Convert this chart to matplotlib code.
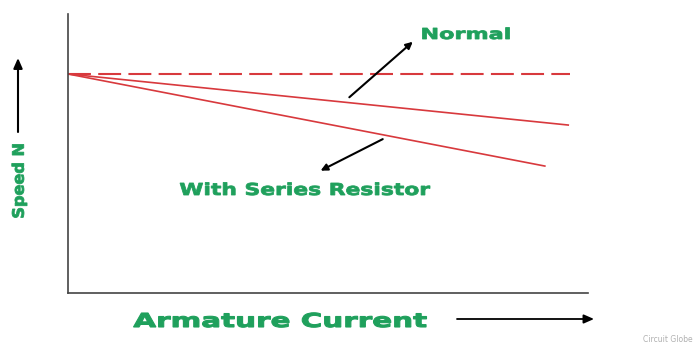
import matplotlib.pyplot as plt
from matplotlib.textpath import TextPath
from matplotlib.font_manager import FontProperties
from matplotlib.patches import PathPatch, FancyArrowPatch
from matplotlib.transforms import Affine2D

# speed vs armature current, values in percent of axis range
current = [0, 96.5]
speed_noload = [78.5, 78.5]
current_normal = [0, 96.2]
speed_normal = [78.5, 60.2]
current_series = [0, 91.7]
speed_series = [78.5, 45.5]

green = '#1fa05c'
red = '#d8393d'
W, H = 695, 347

fig = plt.figure(figsize=(W / 100, H / 100), dpi=100)
ax = fig.add_axes([68/W, 54/H, 520/W, 279/H])
ax.set_xlim(0, 100)
ax.set_ylim(0, 100)

ax.plot(current, speed_noload, color=red, lw=1.5, ls=(0, (11, 3.5)))
ax.plot(current_normal, speed_normal, color=red, lw=1.2)
ax.plot(current_series, speed_series, color=red, lw=1.2)

arrow = dict(arrowstyle='-|>,head_length=0.4,head_width=0.2', color='black', lw=1.5)
ax.annotate('', xy=(66.7, 90.7), xytext=(53.7, 69.5), arrowprops=arrow)
ax.annotate('', xy=(48.1, 43.4), xytext=(61, 55.6), arrowprops=arrow)

for side in ['top', 'right']:
    ax.spines[side].set_visible(False)
for side in ['left', 'bottom']:
    ax.spines[side].set_color('#444444')
    ax.spines[side].set_linewidth(1.2)
ax.set_xticks([])
ax.set_yticks([])

bold = FontProperties(family='DejaVu Sans', weight='bold')


def wide_text(s, cx, cy, cap, width, rotation=0, stroke=0.6):
    # bold label drawn as a path so it can be stretched sideways
    size = cap / 0.729
    tp = TextPath((0, 0), s, size=size, prop=bold)
    bb = tp.get_extents()
    tr = (Affine2D().translate(-(bb.x0 + bb.x1) / 2, -cap / 2)
          .scale(width / bb.width, 1).rotate_deg(rotation)
          .translate(cx, H - cy).scale(1 / W, 1 / H))
    fig.add_artist(PathPatch(tr.transform_path(tp), transform=fig.transFigure,
                             facecolor=green, edgecolor=green, lw=stroke))


wide_text('Normal', 466, 33.5, 11, 87)
wide_text('With Series Resistor', 305, 189, 12, 250)
wide_text('Armature Current', 280, 320, 14, 293, stroke=0.8)
wide_text('Speed N', 18, 181, 11.5, 73, rotation=90)

fig.add_artist(FancyArrowPatch((457/W, 1 - 319/H), (594/W, 1 - 319/H), transform=fig.transFigure,
                               arrowstyle='-|>,head_length=0.5,head_width=0.22', mutation_scale=12,
                               color='black', lw=1.3, shrinkA=0, shrinkB=0))
fig.add_artist(FancyArrowPatch((18/W, 1 - 132/H), (18/W, 1 - 58/H), transform=fig.transFigure,
                               arrowstyle='-|>,head_length=0.5,head_width=0.22', mutation_scale=12,
                               color='black', lw=1.5, shrinkA=0, shrinkB=0))

fig.text(693/W, 1 - 340/H, 'Circuit Globe', color='#b0b0b0', fontsize=5.5,
         ha='right', va='center')

fig.savefig('out.png', dpi=100)
